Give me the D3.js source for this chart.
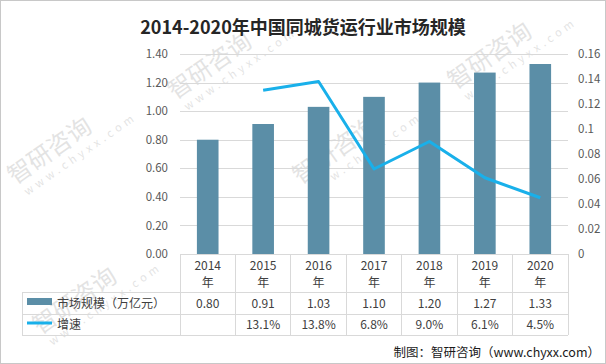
<!DOCTYPE html>
<html><head><meta charset="utf-8">
<script src="https://cdn.jsdelivr.net/npm/d3@7"></script>
<style>body{margin:0;background:#fff}svg{display:block}text{font-family:"Noto Sans CJK SC","Noto Sans",sans-serif}</style>
</head><body><svg id="c" width="606" height="364"></svg>
<script>
const years = ["2014","2015","2016","2017","2018","2019","2020"];
const marketSize = [0.80,0.91,1.03,1.10,1.20,1.27,1.33];
const growth = [null,13.1,13.8,6.8,9.0,6.1,4.5];
const leftTicks = [0,0.2,0.4,0.6,0.8,1.0,1.2,1.4];
const rightTicks = [0,0.02,0.04,0.06,0.08,0.1,0.12,0.14,0.16];
const seriesNames = ["市场规模（万亿元）","增速"];
const title = "2014-2020年中国同城货运行业市场规模";
const source = "制图：智研咨询（www.chyxx.com）";

const svg = d3.select("#c");
const W=606,H=364;
const barColor="#5b8ea7", lineColor="#19b0ea", grid="#d9d9d9", axisText="#595959", tableText="#404040";
svg.append("rect").attr("x",0.5).attr("y",0.5).attr("width",W-1).attr("height",H-1).attr("fill","#fff").attr("stroke","#c8c8c8");

// watermarks
const wm=[[15,185],[175,100],[300,185],[455,90],[40,335]];
wm.forEach(([x,y])=>{
  const g=svg.append("g").attr("transform",`translate(${x},${y}) rotate(-35)`).attr("opacity",0.16);
  g.append("text").attr("x",0).attr("y",0).attr("font-size",24).attr("fill","#555").text("智研咨询");
  g.append("text").attr("x",4).attr("y",16).attr("font-size",11).attr("fill","#555").attr("letter-spacing",4).text("www.chyxx.com");
});

const x0=180,x1=568,yTop=54,yBot=254;
const x=d3.scaleBand().domain(years).range([x0,x1]).paddingInner(0.61).paddingOuter(0.305);
const band=d3.scaleBand().domain(years).range([x0,x1]);
const yL=d3.scaleLinear().domain([0,1.4]).range([yBot,yTop]);
const yR=d3.scaleLinear().domain([0,0.16]).range([yBot,yTop]);

svg.append("text").attr("x",303).attr("y",34).attr("text-anchor","middle").attr("font-size",18).attr("font-weight","bold").attr("fill","#262626").text(title);

// gridlines
svg.append("g").selectAll("line").data(leftTicks.slice(1)).join("line")
 .attr("x1",x0).attr("x2",x1).attr("y1",d=>Math.round(yL(d))+0.5).attr("y2",d=>Math.round(yL(d))+0.5).attr("stroke",grid);

// left axis
const gl=svg.append("g").attr("transform",`translate(${x0},0)`)
 .call(d3.axisLeft(yL).tickValues(leftTicks).tickFormat(d3.format(".2f")).tickSize(0).tickPadding(12));
gl.select(".domain").remove();
gl.selectAll("text").attr("font-size",11.5).attr("fill",axisText).attr("font-family","'Noto Sans','DejaVu Sans',sans-serif");
// right axis
const gr=svg.append("g").attr("transform",`translate(${x1},0)`)
 .call(d3.axisRight(yR).tickValues(rightTicks).tickFormat(d=>d===0?"0":String(+d.toFixed(2))).tickSize(0).tickPadding(10));
gr.select(".domain").remove();
gr.selectAll("text").attr("font-size",11.5).attr("fill",axisText).attr("font-family","'Noto Sans','DejaVu Sans',sans-serif");

// bars
svg.append("g").selectAll("rect").data(marketSize).join("rect")
 .attr("x",(d,i)=>x(years[i])).attr("width",x.bandwidth())
 .attr("y",d=>yL(d)).attr("height",d=>yBot-yL(d)).attr("fill",barColor);

// line
const pts=growth.map((g,i)=>g==null?null:[band(years[i])+band.bandwidth()/2,yR(g/100)]).filter(p=>p);
svg.append("path").attr("d",d3.line()(pts)).attr("fill","none").attr("stroke",lineColor).attr("stroke-width",3).attr("stroke-linejoin","round");

// table
const tl=22, r1=292, r2=314, r3=335;
const tg=svg.append("g").attr("stroke",grid).attr("shape-rendering","crispEdges");
tg.append("line").attr("x1",x0).attr("x2",x1).attr("y1",yBot).attr("y2",yBot);
[r1,r2,r3].forEach(y=>tg.append("line").attr("x1",tl).attr("x2",x1).attr("y1",y).attr("y2",y));
tg.append("line").attr("x1",tl).attr("x2",tl).attr("y1",r1).attr("y2",r3);
const cols=years.map(y=>band(y)).concat([x1]);
cols.forEach(c=>tg.append("line").attr("x1",c).attr("x2",c).attr("y1",yBot).attr("y2",r3));

const cx=i=>band(years[i])+band.bandwidth()/2;
const tt=svg.append("g").attr("font-size",12).attr("fill",tableText).attr("text-anchor","middle");
years.forEach((y,i)=>{
  tt.append("text").attr("x",cx(i)).attr("y",270).text(y);
  tt.append("text").attr("x",cx(i)).attr("y",287).text("年");
  tt.append("text").attr("x",cx(i)).attr("y",308).text(marketSize[i].toFixed(2));
  if(growth[i]!=null) tt.append("text").attr("x",cx(i)).attr("y",329).text(growth[i].toFixed(1)+"%");
});
svg.append("rect").attr("x",27).attr("y",298).attr("width",25).attr("height",7).attr("fill",barColor);
svg.append("line").attr("x1",27).attr("x2",52).attr("y1",323).attr("y2",323).attr("stroke",lineColor).attr("stroke-width",3);
svg.append("text").attr("x",57).attr("y",308).attr("font-size",12).attr("fill",tableText).text(seriesNames[0]);
svg.append("text").attr("x",57).attr("y",329).attr("font-size",12).attr("fill",tableText).text(seriesNames[1]);

svg.append("text").attr("x",600).attr("y",357).attr("text-anchor","end").attr("font-size",12.5).attr("fill","#1a1a1a").text(source);
</script></body></html>
